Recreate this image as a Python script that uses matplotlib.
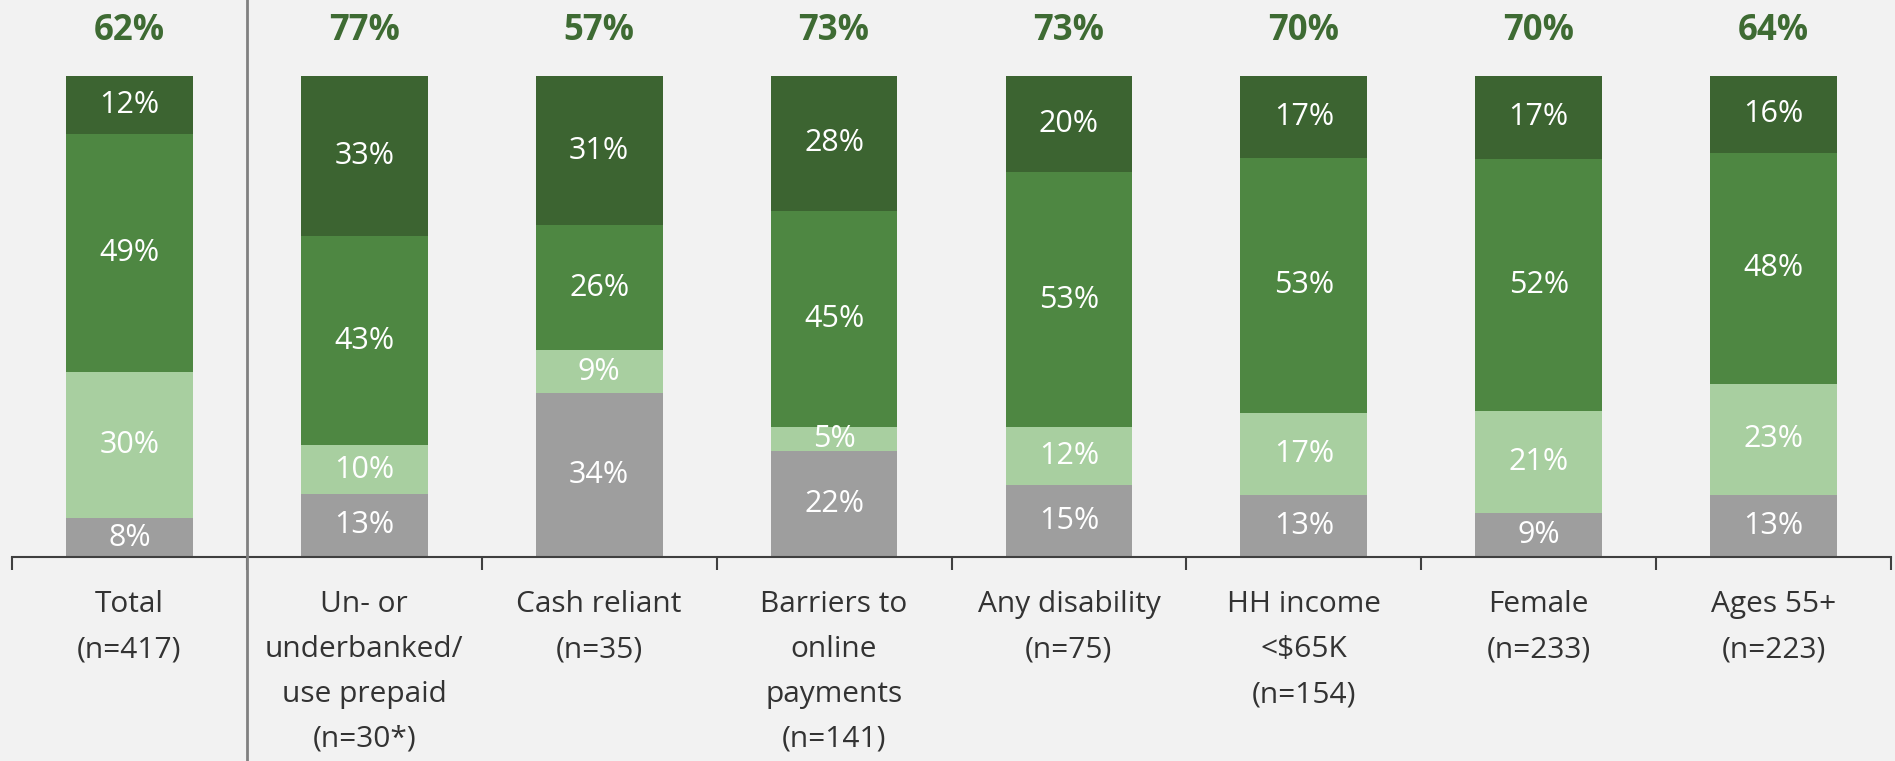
import numpy as np
import matplotlib.pyplot as plt
from matplotlib.lines import Line2D

plt.rcParams['font.family'] = ['Open Sans', 'DejaVu Sans']

categories = ['Total\n(n=417)', 'Un- or\nunderbanked/\nuse prepaid\n(n=30*)', 'Cash reliant\n(n=35)',
              'Barriers to\nonline\npayments\n(n=141)', 'Any disability\n(n=75)',
              'HH income\n<$65K\n(n=154)', 'Female\n(n=233)', 'Ages 55+\n(n=223)']
gray_vals = [8, 13, 34, 22, 15, 13, 9, 13]
light_vals = [30, 10, 9, 5, 12, 17, 21, 23]
mid_vals = [49, 43, 26, 45, 53, 53, 52, 48]
dark_vals = [12, 33, 31, 28, 20, 17, 17, 16]
top_labels = ['62%', '77%', '57%', '73%', '73%', '70%', '70%', '64%']

bg = '#F2F2F2'
colors = ['#9E9E9E', '#A8CFA0', '#4E8742', '#3C6431']
series = [gray_vals, light_vals, mid_vals, dark_vals]

fig = plt.figure(figsize=(18.95, 7.61), dpi=100, facecolor=bg)
ax = fig.add_axes([12 / 1895, 0.268, (1891 - 12) / 1895, 0.732])
ax.set_facecolor(bg)

x = np.arange(len(categories))
totals = np.sum(series, axis=0)
bottom = np.zeros(len(categories))
for vals, c in zip(series, colors):
    h = np.array(vals) / totals * 100
    ax.bar(x, h, bottom=bottom, width=0.54, color=c, linewidth=0)
    for xi, b, hi, v in zip(x, bottom, h, vals):
        ax.text(xi, b + hi / 2, f'{v}%', ha='center', va='center', color='white', fontsize=22)
    bottom += h

for xi, t in zip(x, top_labels):
    ax.text(xi, 109.4, t, ha='center', va='center', color='#3E6B33', fontsize=25, fontweight='bold')

for xi, c in zip(x, categories):
    ax.annotate(c, (xi, 0), xytext=(0, -24), textcoords='offset points', ha='center', va='top',
                fontsize=21.5, color='#333333', linespacing=1.72, annotation_clip=False)

ax.set_xlim(-0.5, len(categories) - 0.5)
ax.set_ylim(0, 115.8)
for s in ['top', 'right', 'left']:
    ax.spines[s].set_visible(False)
ax.spines['bottom'].set_color('#404040')
ax.spines['bottom'].set_linewidth(1.5)
ax.set_yticks([])
ax.set_xticks(np.arange(len(categories) + 1) - 0.5)
ax.set_xticklabels([])
ax.tick_params(axis='x', direction='out', length=9, width=1.5, color='#404040')

sep_x = 247 / 1895
fig.add_artist(Line2D([sep_x, sep_x], [0, 1], color='#808080', linewidth=2))

fig.savefig('out.png', dpi=100, facecolor=bg)
